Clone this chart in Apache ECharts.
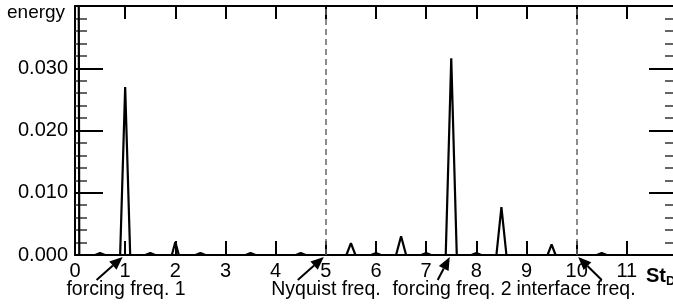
<!DOCTYPE html>
<html>
<head>
<meta charset="utf-8">
<script src="https://cdn.jsdelivr.net/npm/echarts@6/dist/echarts.min.js"></script>
<style>
  html, body { margin: 0; padding: 0; background: #fff; }
  #spectrum { width: 673px; height: 305px; }
</style>
</head>
<body>
<div id="spectrum"></div>
<script>
// spectral peaks (triangles): centre St_D, height (energy), half base width
const peakCenters    = [0.5, 1.0, 1.5, 2.0, 2.5, 3.5, 4.5, 5.5, 6.0, 6.5, 7.0, 7.5, 8.0, 8.5, 9.5, 10.5];
const peakHeights    = [0.0003, 0.027, 0.0003, 0.0021, 0.0003, 0.0003, 0.0003, 0.0019, 0.0003, 0.003, 0.0003, 0.0316, 0.0003, 0.0077, 0.0017, 0.0003];
const peakHalfWidths = [0.1, 0.1, 0.1, 0.07, 0.1, 0.1, 0.1, 0.09, 0.1, 0.1, 0.1, 0.11, 0.1, 0.1, 0.08, 0.1];
// the mean component near St_D = 0 runs off the top
const startX = [0.07, 0.085];
const startY = [0.06, 0];
const endX = 12;

const refLines = [5, 10];
const notes = ['forcing freq. 1', 'Nyquist freq.', 'forcing freq. 2', 'interface freq.'];
const noteTextX = [126, 326, 452, 576];   // text centre in pixels
const noteTailX = [0.43, 4.44, 7.23, 10.5];
const noteTipX  = [0.95, 4.96, 7.47, 10.03];

const FONT = 'Liberation Sans';

let lineData = [];
startX.forEach((x, i) => lineData.push([x, startY[i]]));
peakCenters.forEach((c, i) => {
  lineData.push([c - peakHalfWidths[i], 0]);
  lineData.push([c, peakHeights[i]]);
  lineData.push([c + peakHalfWidths[i], 0]);
});
lineData.push([endX, 0]);

let myChart = echarts.init(document.getElementById('spectrum'));

let axisBase = {
  type: 'value',
  axisLine: { show: true, onZero: false, lineStyle: { color: '#000', width: 2 } },
  splitLine: { show: false }
};

myChart.setOption({
  animation: false,
  grid: { left: 75, top: 6, width: 602, height: 249, outerBoundsMode: 'none', containLabel: false },
  xAxis: [
    Object.assign({}, axisBase, {
      min: 0, max: 12, interval: 1,
      position: 'bottom',
      axisTick: { inside: true, length: 14, lineStyle: { color: '#000', width: 2 } },
      axisLabel: {
        margin: 6,
        color: '#000', fontFamily: FONT, fontSize: 20,
        formatter: v => (v < 12 ? String(v) : '')
      }
    }),
    Object.assign({}, axisBase, {
      min: 0, max: 12, interval: 1,
      position: 'top',
      axisTick: { inside: true, length: 13, lineStyle: { color: '#000', width: 2 } },
      axisLabel: { show: false }
    })
  ],
  yAxis: [
    Object.assign({}, axisBase, {
      min: 0, max: 0.04, interval: 0.01,
      position: 'left',
      axisTick: { inside: true, length: 28, lineStyle: { color: '#000', width: 2 } },
      minorTick: { show: true, splitNumber: 5, length: 12, lineStyle: { color: '#333', width: 1.5 } },
      axisLabel: {
        margin: 7,
        color: '#000', fontFamily: FONT, fontSize: 20,
        formatter: v => (v < 0.035 ? v.toFixed(3) : '')
      }
    }),
    Object.assign({}, axisBase, {
      min: 0, max: 0.04, interval: 0.01,
      position: 'right',
      axisTick: { inside: true, length: 28, lineStyle: { color: '#000', width: 2 } },
      minorTick: { show: true, splitNumber: 5, length: 12, lineStyle: { color: '#333', width: 1.5 } },
      axisLabel: { show: false }
    })
  ],
  series: [{
    type: 'line',
    data: lineData,
    symbol: 'none',
    lineStyle: { color: '#000', width: 2.2 },
    markLine: {
      silent: true,
      symbol: ['none', 'none'],
      label: { show: false },
      lineStyle: { color: '#666', type: [6, 4], width: 1.5 },
      data: refLines.map(x => ({ xAxis: x }))
    }
  }]
});

// annotations: arrows pointing at the axis from text below it
let graphics = [{
  type: 'text', left: 7, top: 3,
  style: { text: 'energy', fill: '#000', font: '19px "' + FONT + '"' }
}, {
  type: 'text', left: 646, top: 266,
  style: {
    text: '{a|St}{b|D}',
    rich: {
      a: { fill: '#000', fontSize: 20, fontWeight: 'bold', fontFamily: FONT },
      b: { fill: '#000', fontSize: 13, fontWeight: 'bold', fontFamily: FONT, padding: [10, 0, 0, 0] }
    }
  }
}];
notes.forEach((t, i) => {
  let tail = myChart.convertToPixel({ gridIndex: 0 }, [noteTailX[i], 0]);
  let tip = myChart.convertToPixel({ gridIndex: 0 }, [noteTipX[i], 0]);
  let x1 = tail[0], y1 = 280, x2 = tip[0], y2 = 257;
  let ang = Math.atan2(y2 - y1, x2 - x1);
  let hl = 13, hw = 5.5;
  let bx = x2 - hl * Math.cos(ang), by = y2 - hl * Math.sin(ang);
  let px = -Math.sin(ang) * hw, py = Math.cos(ang) * hw;
  graphics.push({
    type: 'line',
    shape: { x1: x1, y1: y1, x2: bx, y2: by },
    style: { stroke: '#000', lineWidth: 2 }
  });
  graphics.push({
    type: 'polygon',
    shape: { points: [[x2, y2], [bx + px, by + py], [bx - px, by - py]] },
    style: { fill: '#000' }
  });
  graphics.push({
    type: 'text', x: noteTextX[i], y: 290,
    style: { text: t, fill: '#000', font: '19.5px "' + FONT + '"', align: 'center', verticalAlign: 'middle' }
  });
});
myChart.setOption({ graphic: graphics });
</script>
</body>
</html>
